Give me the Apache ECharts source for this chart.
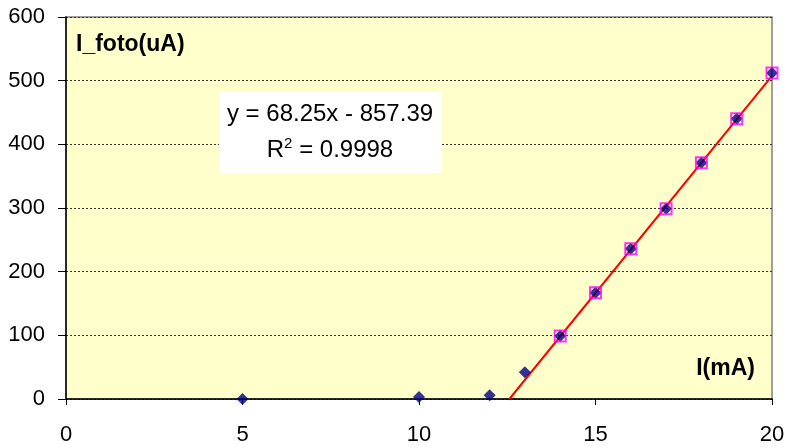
<!DOCTYPE html>
<html><head><meta charset="utf-8">
<script src="https://cdn.jsdelivr.net/npm/echarts@6/dist/echarts.min.js"></script>
<style>html,body{margin:0;padding:0;background:#fff}#c{width:789px;height:448px}</style>
</head><body><div id="c"></div>
<script>
var xValues = [5, 10, 12, 13, 14, 15, 16, 17, 18, 19, 20];
var yValues = [0, 3, 6, 42, 99, 167, 236, 299, 371, 440, 512];
var fitX = [14, 15, 16, 17, 18, 19, 20];
var fitY = [99, 167, 236, 299, 371, 440, 512];
var trendX = [12.56, 20];
var trendY = [0, 507.6];
var xTicks = [0, 5, 10, 15, 20];
var yTicks = [0, 100, 200, 300, 400, 500, 600];

var chart = echarts.init(document.getElementById('c'), null, {renderer: 'canvas'});
var ff = 'Arial';
chart.setOption({
  animation: false,
  grid: {left: 66, right: 17, top: 17, bottom: 49, show: true, backgroundColor: '#FFFFCC', borderColor: '#808080', borderWidth: 1.5},
  xAxis: {
    type: 'value', min: xTicks[0], max: xTicks[xTicks.length - 1], interval: 5,
    axisLine: {show: true, onZero: false, lineStyle: {color: '#000', width: 1.5}},
    axisTick: {show: true, inside: false, length: 6, lineStyle: {color: '#000'}},
    axisLabel: {color: '#000', fontSize: 22, fontFamily: ff, margin: 25},
    splitLine: {show: false}
  },
  yAxis: {
    type: 'value', min: yTicks[0], max: yTicks[yTicks.length - 1], interval: 100,
    axisLine: {show: true, lineStyle: {color: '#000', width: 1.5}},
    axisTick: {show: true, inside: false, length: 8, lineStyle: {color: '#000'}},
    axisLabel: {color: '#000', fontSize: 22, fontFamily: ff, margin: 21},
    splitLine: {show: true, lineStyle: {color: '#333', type: [2, 2], width: 1}}
  },
  series: [
    {type: 'line', data: trendX.map(function(x, i){return [x, trendY[i]];}), symbol: 'none', z: 2,
     lineStyle: {color: '#FF0000', width: 2}},
    {type: 'scatter', data: xValues.map(function(x, i){return [x, yValues[i]];}), symbol: 'diamond', symbolSize: 12, z: 3,
     itemStyle: {color: '#000080'}},
    {type: 'scatter', data: fitX.map(function(x, i){return [x, fitY[i]];}), symbol: 'rect', symbolSize: 11, z: 4,
     itemStyle: {color: 'rgba(0,0,0,0)', borderColor: '#FF00FF', borderWidth: 2}}
  ],
  graphic: [
    {type: 'text', x: 76, y: 45, style: {text: 'I_foto(uA)', fontSize: 23, fontWeight: 'bold', fontFamily: ff, fill: '#000', verticalAlign: 'middle'}},
    {type: 'text', x: 755, y: 369, style: {text: 'I(mA)', fontSize: 23, fontWeight: 'bold', fontFamily: ff, fill: '#000', align: 'right', verticalAlign: 'middle'}},
    {type: 'rect', shape: {x: 219, y: 92, width: 223, height: 81}, style: {fill: '#fff'}, z: 10},
    {type: 'text', x: 330, y: 114, z: 11, style: {text: 'y = 68.25x - 857.39', fontSize: 24, fontFamily: ff, fill: '#000', align: 'center', verticalAlign: 'middle'}},
    {type: 'text', x: 330, y: 149, z: 11, style: {
      text: '{n|R}{s|2}{n| = 0.9998}', align: 'center', verticalAlign: 'middle',
      rich: {n: {fontSize: 24, lineHeight: 26, fontFamily: ff, fill: '#000', verticalAlign: 'bottom'}, s: {fontSize: 15, lineHeight: 15, fontFamily: ff, fill: '#000', verticalAlign: 'top'}}
    }}
  ]
});
</script></body></html>
